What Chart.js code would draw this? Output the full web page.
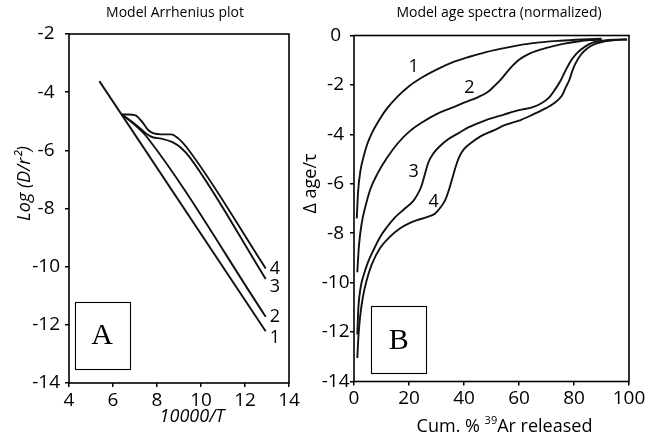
<!DOCTYPE html>
<html><head><meta charset="utf-8">
<script src="https://cdn.jsdelivr.net/npm/chart.js@4.4.1/dist/chart.umd.min.js"></script>
<style>
html,body{margin:0;padding:0;background:#fff;width:663px;height:443px;overflow:hidden;position:relative}
#ca{position:absolute;left:0;top:0}
#cb{position:absolute;left:295px;top:0}
</style></head><body>
<canvas id="ca" width="330" height="443"></canvas>
<canvas id="cb" width="368" height="443"></canvas>
<script>
// ---------- Panel A: Model Arrhenius plot ----------
const titleA = "Model Arrhenius plot";
const xTitleA = "10000/T";
const yTitleA = "Log (D/r\u00B2)";
const xTicksA = [4, 6, 8, 10, 12, 14];
const yTicksA = [-14, -12, -10, -8, -6, -4, -2];
const a1x = [5.38, 12.94];
const a1y = [-3.62, -12.22];
const a2x = [6.39, 6.8, 7.2, 7.55, 12.94];
const a2y = [-4.77, -5.0, -5.27, -5.55, -11.72];
const a3x = [6.39, 6.8, 7.15, 7.5, 7.8, 8.2, 8.7, 9.1, 9.5, 12.94];
const a3y = [-4.77, -4.98, -5.19, -5.42, -5.55, -5.6, -5.72, -5.92, -6.25, -10.42];
const a4x = [6.39, 6.7, 7.0, 7.3, 7.6, 7.85, 8.2, 8.65, 8.95, 9.3, 12.94];
const a4y = [-4.77, -4.77, -4.79, -5.0, -5.3, -5.42, -5.45, -5.45, -5.58, -5.85, -10.06];
const curveNames = ["1", "2", "3", "4"];
const labelAx = [13.36, 13.36, 13.36, 13.36];
const labelAy = [-12.46, -11.74, -10.69, -10.06];

// ---------- Panel B: Model age spectra ----------
const titleB = "Model age spectra (normalized)";
const yTitleB = "\u0394 age/\u03C4";
const xTicksB = [0, 20, 40, 60, 80, 100];
const yTicksB = [-14, -12, -10, -8, -6, -4, -2, 0];
const b1x = [1.0, 1.5, 2.3, 3.5, 4.8, 6.5, 9, 12, 16, 20, 25, 30, 36, 42, 48, 56, 65, 75, 83, 90];
const b1y = [-7.4, -6.3, -5.5, -4.9, -4.4, -3.95, -3.45, -2.95, -2.45, -2.05, -1.68, -1.38, -1.08, -0.86, -0.67, -0.48, -0.31, -0.21, -0.16, -0.13];
const b2x = [1.2, 1.8, 2.8, 4.2, 6, 8.5, 12, 16, 20.5, 25, 30, 35, 40, 45, 48.5, 51, 54, 57, 60, 64, 70, 76, 82, 88, 90];
const b2y = [-9.58, -8.5, -7.6, -6.9, -6.2, -5.6, -4.95, -4.35, -3.85, -3.5, -3.18, -2.95, -2.72, -2.5, -2.3, -2.05, -1.7, -1.3, -0.98, -0.72, -0.5, -0.34, -0.23, -0.17, -0.15];
const b3x = [1.2, 1.6, 2.4, 3.5, 5, 7, 9.5, 12, 15, 18, 21.5, 23, 24.5, 25.8, 27, 29, 31.5, 34, 38, 42, 48, 54.5, 60, 65, 68, 71, 73, 75, 77, 79, 81, 84, 87, 91, 95, 99.3];
const b3y = [-12.1, -11.0, -10.2, -9.7, -9.2, -8.7, -8.15, -7.75, -7.35, -7.05, -6.7, -6.45, -6.1, -5.6, -5.15, -4.75, -4.45, -4.22, -3.95, -3.7, -3.42, -3.2, -3.02, -2.9, -2.75, -2.5, -2.2, -1.85, -1.4, -1.0, -0.72, -0.45, -0.28, -0.2, -0.17, -0.16];
const b4x = [1.2, 1.6, 2.2, 3.2, 4.6, 6.5, 9.5, 13, 16.8, 20, 23, 26.5, 29.5, 31.5, 33.2, 34.5, 35.7, 37, 38.3, 40, 42.5, 46, 50.8, 55, 60.6, 65, 70, 73, 75.5, 77, 78.3, 79.5, 80.7, 82.5, 84.9, 87.5, 91, 95, 99.3];
const b4y = [-13.05, -12.2, -11.4, -10.6, -9.9, -9.25, -8.6, -8.15, -7.8, -7.6, -7.47, -7.35, -7.2, -6.95, -6.65, -6.25, -5.8, -5.3, -4.9, -4.6, -4.35, -4.08, -3.84, -3.62, -3.42, -3.2, -2.93, -2.72, -2.45, -2.1, -1.8, -1.4, -1.1, -0.78, -0.52, -0.35, -0.24, -0.18, -0.16];
const labelBx = [21.7, 42.0, 21.7, 29.0];
const labelBy = [-1.28, -2.12, -5.53, -6.72];

const FONT = "'Open Sans', 'DejaVu Sans', sans-serif";
const zip = (xs, ys) => xs.map((v, i) => ({x: v, y: ys[i]}));
const ds = (xs, ys) => ({
  data: zip(xs, ys), showLine: true, borderColor: '#111', borderWidth: 1.9,
  pointRadius: 0, fill: false, cubicInterpolationMode: 'monotone'
});

const deco = {
  id: 'deco',
  afterDatasetsDraw(chart, args, o) {
    const {ctx, chartArea: a} = chart;
    const sx = chart.scales.x, sy = chart.scales.y;
    ctx.save();
    // frame
    ctx.strokeStyle = '#000';
    ctx.lineWidth = 1.6;
    ctx.strokeRect(a.left, a.top, a.right - a.left, a.bottom - a.top);
    // letter box
    const x0 = sx.getPixelForValue(o.box[0]), x1 = sx.getPixelForValue(o.box[1]);
    const y0 = sy.getPixelForValue(o.box[2]), y1 = sy.getPixelForValue(o.box[3]);
    ctx.lineWidth = 1.1;
    ctx.strokeRect(Math.round(x0) + 0.5, Math.round(y0) + 0.5, Math.round(x1 - x0), Math.round(y1 - y0));
    ctx.fillStyle = '#000';
    ctx.textAlign = 'center';
    ctx.textBaseline = 'middle';
    ctx.font = "30px 'Liberation Serif', serif";
    ctx.fillText(o.letter, (x0 + x1) / 2, (y0 + y1) / 2 + 1);
    // curve numbers
    ctx.font = "18px " + FONT;
    o.names.forEach((t, i) => ctx.fillText(t, sx.getPixelForValue(o.lx[i]), sy.getPixelForValue(o.ly[i])));
    // title
    ctx.font = "14px " + FONT;
    ctx.fillText(o.title, (a.left + a.right) / 2 + o.titleDx, 13.5);
    // x axis title
    const xc = (a.left + a.right) / 2 + o.xtDx;
    const xy = a.bottom + o.xtDy;
    if (o.xParts) {
      const big = "18px " + FONT, small = "11px " + FONT;
      ctx.font = big; const w0 = ctx.measureText(o.xParts[0]).width;
      ctx.font = small; const w1 = ctx.measureText(o.xParts[1]).width;
      ctx.font = big; const w2 = ctx.measureText(o.xParts[2]).width;
      let cx = xc - (w0 + w1 + w2) / 2;
      ctx.textAlign = 'left';
      ctx.font = big; ctx.fillText(o.xParts[0], cx, xy); cx += w0;
      ctx.font = small; ctx.fillText(o.xParts[1], cx, xy - 6); cx += w1;
      ctx.font = big; ctx.fillText(o.xParts[2], cx, xy);
    } else {
      ctx.font = "italic 18px " + FONT;
      ctx.fillText(o.xTitle, xc, xy);
    }
    // y axis title
    ctx.save();
    ctx.translate(o.ytX, (a.top + a.bottom) / 2 + o.ytDy);
    ctx.rotate(-Math.PI / 2);
    ctx.textAlign = 'center';
    ctx.font = (o.ytItalic ? "italic " : "") + "18px " + FONT;
    ctx.fillText(o.yTitle, 0, 0);
    ctx.restore();
    ctx.restore();
  }
};

function axis(kind, ticksArr, size, pad) {
  const s = {
    type: 'linear', min: ticksArr[0], max: ticksArr[ticksArr.length - 1],
    afterBuildTicks: sc => { sc.ticks = ticksArr.map(v => ({value: v})); },
    ticks: {color: '#000', font: {family: FONT, size: 19}, padding: pad, maxRotation: 0, autoSkip: false},
    grid: {display: true, drawOnChartArea: false, drawTicks: true, tickLength: 4, color: '#000', lineWidth: 1.5},
    border: {display: false}
  };
  if (kind === 'x') s.afterFit = sc => { sc.height = size; };
  else { s.afterFit = sc => { sc.width = size; }; s.ticks.crossAlign = 'center'; }
  return s;
}

new Chart(document.getElementById('ca'), {
  type: 'scatter',
  data: {datasets: [ds(a1x, a1y), ds(a2x, a2y), ds(a3x, a3y), ds(a4x, a4y)]},
  options: {
    responsive: false, animation: false, devicePixelRatio: 1,
    layout: {padding: {left: 0, right: 41, top: 34, bottom: 0}},
    scales: {x: axis('x', xTicksA, 60, 2), y: axis('y', yTicksA, 69, 5)},
    plugins: {
      legend: {display: false}, tooltip: {enabled: false},
      deco: {box: [4.26, 6.74, -11.21, -13.53], letter: 'A', names: curveNames, lx: labelAx, ly: labelAy,
             title: titleA, titleDx: -4, xTitle: xTitleA, xtDx: 13, xtDy: 34, yTitle: yTitleA, ytX: 25, ytDy: -25, ytItalic: true}
    }
  },
  plugins: [deco]
});

new Chart(document.getElementById('cb'), {
  type: 'scatter',
  data: {datasets: [ds(b1x, b1y), ds(b2x, b2y), ds(b3x, b3y), ds(b4x, b4y)]},
  options: {
    responsive: false, animation: false, devicePixelRatio: 1,
    layout: {padding: {left: 0, right: 34, top: 35.5, bottom: 0}},
    scales: {x: axis('x', xTicksB, 61.5, 2), y: axis('y', yTicksB, 59, 0.5)},
    plugins: {
      legend: {display: false}, tooltip: {enabled: false},
      deco: {box: [6.3, 26.3, -10.96, -13.69], letter: 'B', names: curveNames, lx: labelBx, ly: labelBy,
             title: titleB, titleDx: 7.5, xParts: ["Cum. % ", "39", "Ar released"], xtDx: 13, xtDy: 45.5,
             yTitle: yTitleB, ytX: 16, ytDy: -25, ytItalic: false}
    }
  },
  plugins: [deco]
});
</script>
</body></html>
